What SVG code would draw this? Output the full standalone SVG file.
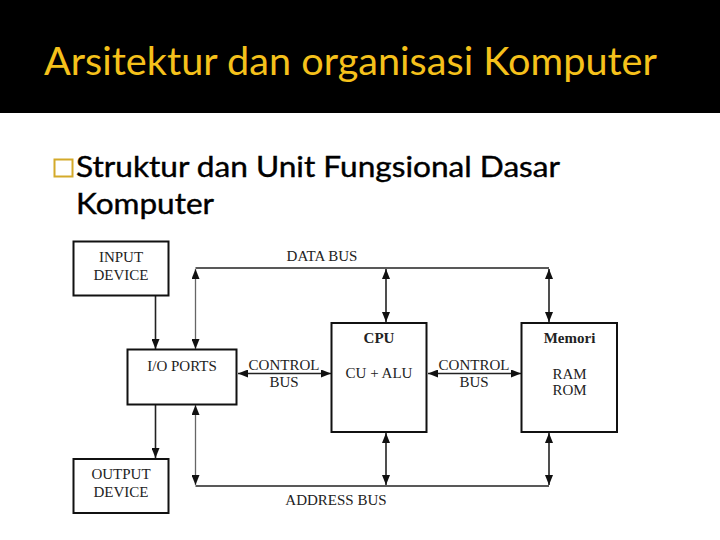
<svg xmlns="http://www.w3.org/2000/svg" width="720" height="540" viewBox="0 0 720 540">
<style>
.title{font-family:Lato,"Open Sans","Liberation Sans",sans-serif;font-size:38px;fill:#F5C11B}
.bul{font-family:Lato,"Open Sans","Liberation Sans",sans-serif;font-size:28px;fill:#000;stroke:#000;stroke-width:0.4}
.box{fill:#fff;stroke:#111;stroke-width:2}
.lbl{font-family:"Liberation Serif","Times New Roman",serif;font-size:15px;fill:#222;text-anchor:middle}
.b{font-weight:bold}
.ln{fill:none;stroke:#222;stroke-width:1.6}
.gr{stroke:#666;stroke-width:1.3}
</style>
<defs>
<marker id="ah" viewBox="0 0 10 8" refX="10" refY="4" markerWidth="10" markerHeight="8" markerUnits="userSpaceOnUse" orient="auto-start-reverse">
<path d="M0,0 L10,4 L0,8 z" fill="#111"/>
</marker>
</defs>
<rect x="0" y="0" width="720" height="113" fill="#000"/>
<text class="title" x="44" y="75" textLength="613" lengthAdjust="spacingAndGlyphs">Arsitektur dan organisasi Komputer</text>
<rect x="54.5" y="159.5" width="18" height="17" fill="none" stroke="#D4AA2A" stroke-width="2"/>
<text class="bul" x="76" y="177" textLength="484" lengthAdjust="spacingAndGlyphs">Struktur dan Unit Fungsional Dasar</text>
<text class="bul" x="76" y="214" textLength="138" lengthAdjust="spacingAndGlyphs">Komputer</text>

<g id="connectors">
<polyline class="ln" points="195.5,268 549,268"/>
<polyline class="ln" points="195.5,486 549,486"/>
<line class="ln" x1="155.5" y1="296" x2="155.5" y2="349" marker-end="url(#ah)"/>
<line class="ln" x1="155.5" y1="405" x2="155.5" y2="458" marker-end="url(#ah)"/>
<line class="ln gr" x1="195.5" y1="269" x2="195.5" y2="349" marker-start="url(#ah)" marker-end="url(#ah)"/>
<line class="ln gr" x1="195.5" y1="405" x2="195.5" y2="485" marker-start="url(#ah)" marker-end="url(#ah)"/>
<line class="ln" x1="386" y1="269" x2="386" y2="322" marker-start="url(#ah)" marker-end="url(#ah)"/>
<line class="ln" x1="549" y1="269" x2="549" y2="322" marker-start="url(#ah)" marker-end="url(#ah)"/>
<line class="ln" x1="386" y1="433" x2="386" y2="485" marker-start="url(#ah)" marker-end="url(#ah)"/>
<line class="ln" x1="549" y1="433" x2="549" y2="485" marker-start="url(#ah)" marker-end="url(#ah)"/>
<line class="ln" x1="238" y1="373.5" x2="331" y2="373.5" marker-start="url(#ah)" marker-end="url(#ah)"/>
<line class="ln" x1="428" y1="373.5" x2="521" y2="373.5" marker-start="url(#ah)" marker-end="url(#ah)"/>
<text class="lbl" x="322" y="261">DATA BUS</text>
<text class="lbl" x="336" y="505">ADDRESS BUS</text>
<text class="lbl" x="284" y="370">CONTROL</text>
<text class="lbl" x="284" y="387">BUS</text>
<text class="lbl" x="474" y="370">CONTROL</text>
<text class="lbl" x="474" y="387">BUS</text>
</g>

<g id="input-device">
<rect class="box" x="73.5" y="241.5" width="95" height="54"/>
<text class="lbl" x="121" y="262">INPUT</text>
<text class="lbl" x="121" y="280">DEVICE</text>
</g>
<g id="io-ports">
<rect class="box" x="127.5" y="349.5" width="109" height="55"/>
<text class="lbl" x="182" y="371">I/O PORTS</text>
</g>
<g id="output-device">
<rect class="box" x="73.5" y="459" width="95" height="54"/>
<text class="lbl" x="121" y="479">OUTPUT</text>
<text class="lbl" x="121" y="497">DEVICE</text>
</g>
<g id="cpu">
<rect class="box" x="331.5" y="323" width="95" height="109"/>
<text class="lbl b" x="379" y="343">CPU</text>
<text class="lbl" x="379" y="378">CU + ALU</text>
</g>
<g id="memori">
<rect class="box" x="521.5" y="323" width="95.5" height="109"/>
<text class="lbl b" x="569.5" y="343">Memori</text>
<text class="lbl" x="569.5" y="379">RAM</text>
<text class="lbl" x="569.5" y="395">ROM</text>
</g>
</svg>
